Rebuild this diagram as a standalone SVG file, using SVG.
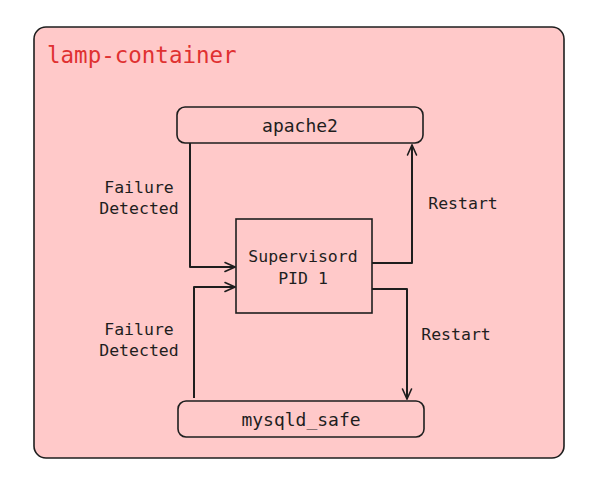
<svg xmlns="http://www.w3.org/2000/svg" width="603" height="492" viewBox="0 0 603 492">
<defs>
<style>
.box{fill:#ffc9c9;stroke:#1e1e1e;stroke-width:1.6}
.t{font-family:"DejaVu Sans Mono","Liberation Mono",monospace;fill:#1e1e1e;text-anchor:middle;dominant-baseline:central}
.lbl{font-size:16.5px}
.nt{font-size:18px}
.edge{fill:none;stroke:#1e1e1e;stroke-width:2;stroke-linejoin:round}
</style>
<marker id="arr" viewBox="0 0 12 12" refX="11" refY="6" markerWidth="12" markerHeight="12" markerUnits="userSpaceOnUse" orient="auto">
<path d="M1,1.5 L11,6 L1,10.5" fill="none" stroke="#1e1e1e" stroke-width="1.6" stroke-linecap="round"/>
</marker>
</defs>
<rect width="603" height="492" fill="#ffffff"/>
<g id="lamp-container">
<rect class="box" x="34" y="27" width="530" height="431" rx="12" stroke-width="2"/>
<text x="47" y="55" font-family="DejaVu Sans Mono,Liberation Mono,monospace" font-size="22.5" fill="#e03131" dominant-baseline="central">lamp-container</text>
</g>
<g id="apache2">
<rect class="box" x="177" y="107" width="246" height="36" rx="8"/>
<text class="t nt" x="300" y="125">apache2</text>
</g>
<g id="supervisord">
<rect class="box" x="236" y="219" width="136" height="94" rx="0"/>
<text class="t lbl" x="303" y="256">Supervisord</text>
<text class="t lbl" x="303" y="278">PID 1</text>
</g>
<g id="mysqld_safe">
<rect class="box" x="178" y="401" width="246" height="36" rx="8"/>
<text class="t nt" x="301" y="419">mysqld_safe</text>
</g>
<g id="connectors">
<path class="edge" d="M190,143 L190,267 L235,267" marker-end="url(#arr)"/>
<path class="edge" d="M194,398 L194,287 L235,287" marker-end="url(#arr)"/>
<path class="edge" d="M372,263 L412,263 L412,145" marker-end="url(#arr)"/>
<path class="edge" d="M372,289 L407,289 L407,399" marker-end="url(#arr)"/>
<text class="t lbl" x="139" y="187">Failure</text>
<text class="t lbl" x="139" y="208">Detected</text>
<text class="t lbl" x="139" y="329">Failure</text>
<text class="t lbl" x="139" y="350">Detected</text>
<text class="t lbl" x="463" y="203">Restart</text>
<text class="t lbl" x="456" y="334">Restart</text>
</g>
</svg>
